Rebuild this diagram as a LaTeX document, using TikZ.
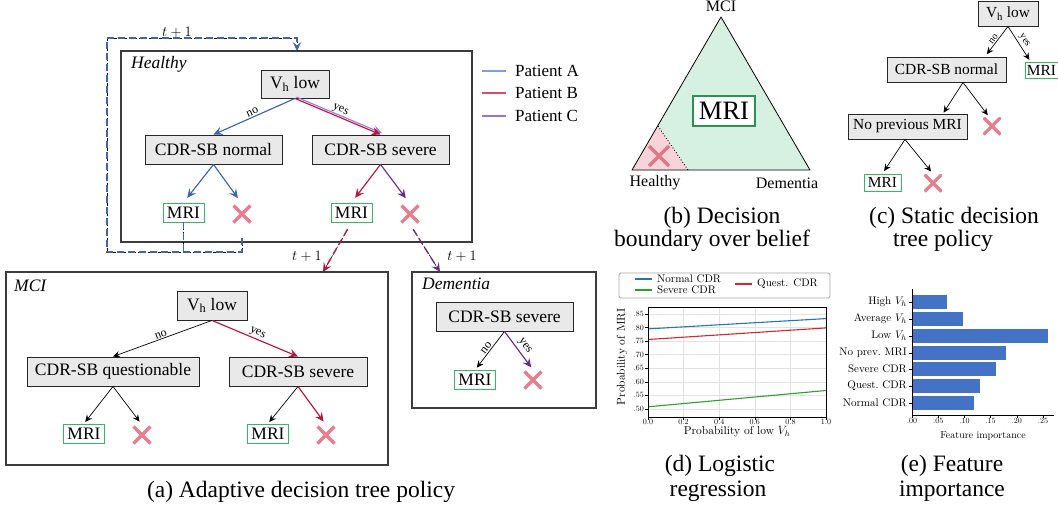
\documentclass[tikz,border=0pt]{standalone}
\usepackage{fontspec}
\setmainfont{Liberation Serif}
\newfontfamily\cmfont{lmroman10-regular.otf}
\usetikzlibrary{arrows.meta,calc}

\definecolor{pathA}{HTML}{3F64AA}
\definecolor{pathB}{HTML}{B4163C}
\definecolor{pathC}{HTML}{6A2C8C}
\definecolor{pathClight}{HTML}{A57AD6}
\definecolor{legA}{HTML}{7C9FE6}
\definecolor{legB}{HTML}{E04D63}
\definecolor{legC}{HTML}{A070D2}
\definecolor{mrigreen}{HTML}{33B864}
\definecolor{xred}{HTML}{EA7D8D}
\definecolor{decfill}{HTML}{E9E9E9}
\definecolor{boxline}{HTML}{3C3C3C}
\definecolor{safe}{HTML}{D6F0E1}
\definecolor{risk}{HTML}{F8D4D8}
\definecolor{barblue}{HTML}{4472C4}
\definecolor{lrblue}{HTML}{1F77B4}
\definecolor{lrred}{HTML}{D62728}
\definecolor{lrgreen}{HTML}{2CA02C}
\definecolor{gridgray}{HTML}{E2E2E2}

\newcommand{\fs}[1]{\fontsize{#1}{#1}\selectfont}

\tikzset{
  x=1pt, y=-1pt,
  regionbox/.style={draw=boxline, line width=1.1pt, inner sep=0pt},
  statelbl/.style={font=\fs{17.5}\itshape, inner sep=0pt},
  decision/.style={draw=black!85, fill=decfill, line width=0.9pt, inner sep=0pt,
    minimum height=29pt, font=\fs{17.5}},
  mribox/.style={draw=mrigreen, line width=0.9pt, fill=white, inner sep=0pt,
    minimum width=41pt, minimum height=19pt, font=\fs{17.5}},
  nomri/.style={minimum size=20pt, inner sep=0pt,
    path picture={\draw[xred, line width=3.2pt]
      ([shift={(-8.5pt,-8.5pt)}]path picture bounding box.center) --
      ([shift={(8.5pt,8.5pt)}]path picture bounding box.center)
      ([shift={(-8.5pt,8.5pt)}]path picture bounding box.center) --
      ([shift={(8.5pt,-8.5pt)}]path picture bounding box.center);}},
  edgelbl/.style={font=\fs{12}, text=black, inner sep=1pt},
  treearrow/.style={line width=1.15pt, -{Stealth[length=9pt,width=8.5pt,inset=3.5pt]}},
  thinarrow/.style={line width=0.7pt, black, -{Stealth[length=7pt,width=6.5pt,inset=2.5pt]}},
  dashunder/.style={black, line width=0.6pt, dash pattern=on 3pt off 2pt},
  dashover/.style={draw=#1, line width=1.35pt, dash pattern=on 7pt off 4pt},
  caption/.style={font=\fs{23.5}, inner sep=0pt},
  steplbl/.style={font=\fs{14}, inner sep=0pt},
  cmtick/.style={font=\cmfont\fs{8}, inner sep=1pt},
  cmlbl/.style={font=\cmfont\fs{11.5}, inner sep=0pt},
}

\begin{document}
\begin{tikzpicture}
\useasboundingbox (0,0) rectangle (1058,509);

% ---------------- (a) adaptive policy: Healthy state ----------------
\node[regionbox, minimum width=351pt, minimum height=191pt] (hbox) at (296.5,146.5) {};
\node[statelbl, anchor=west] (hlbl) at (131,64) {Healthy};
\node[decision, minimum width=68pt, minimum height=28pt] (hvh) at (295,84) {V\textsubscript{h} low};
\node[decision, minimum width=137pt] (hcn) at (213.5,149.5) {CDR-SB normal};
\node[decision, minimum width=137pt] (hcs) at (380.5,149.5) {CDR-SB severe};
\node[mribox] (hm1) at (183.5,212.5) {MRI};
\node[nomri] (hx1) at (242,214) {};
\node[mribox] (hm2) at (351.5,212.5) {MRI};
\node[nomri] (hx2) at (410,214) {};

\draw[treearrow, pathA] (hvh.south) -- node[edgelbl, rotate=25, anchor=south] (hno) {no} (hcn.north);
\draw[treearrow, pathClight, transform canvas={shift={(1.4pt,1.4pt)}}] (hvh.south) -- (hcs.north);
\draw[treearrow, pathB] (hvh.south) -- node[edgelbl, rotate=-23, anchor=south, yshift=1pt] (hyes) {yes} (hcs.north);
\draw[treearrow, pathA, shorten >=6pt] (hcn.south) -- (hm1.north);
\draw[treearrow, pathA, shorten >=7pt] (hcn.south) -- (hx1.north);
\draw[treearrow, pathB, shorten >=6pt] (hcs.south) -- (hm2.north);
\draw[treearrow, pathC, shorten >=7pt] (hcs.south) -- (hx2.north);

% loop back into the Healthy state
\coordinate (loopbl) at (107,252);
\coordinate (looptl) at (107,38);
\coordinate (looptr) at (297,38);
\coordinate (hentry) at (297,51);
\coordinate (mdrop) at (hm1.south |- loopbl);
\draw[dashunder, shorten <=8pt] (hm1.south) -- (mdrop)
  ([yshift=-6pt]hx1.south) |- (loopbl) -- (looptl) -- (looptr) -- (hentry);
\draw[dashover=pathA, shorten <=8pt, -{Stealth[length=9pt,width=8.5pt,inset=3.5pt]}]
  (hm1.south) -- (mdrop)
  ([yshift=-6pt]hx1.south) |- (loopbl) -- (looptl) -- (looptr) -- (hentry);
\node[steplbl] (tloop) at (177,32) {$t+1$};

% transitions to MCI and Dementia
\coordinate (mciin) at (323,272);
\coordinate (demin) at (440,272);
\draw[dashunder, shorten <=8pt] (hm2.south) -- (mciin);
\draw[dashover=pathB, shorten <=8pt, -{Stealth[length=9pt,width=8.5pt,inset=3.5pt]}] (hm2.south) -- (mciin);
\draw[dashunder, shorten <=6pt] (hx2.south) -- (demin);
\draw[dashover=pathC, shorten <=6pt, -{Stealth[length=9pt,width=8.5pt,inset=3.5pt]}] (hx2.south) -- (demin);
\node[steplbl] (tmci) at (307,256) {$t+1$};
\node[steplbl] (tdem) at (462,256) {$t+1$};

% patient legend
\draw[legA, line width=1.5pt] (482,71) -- (506,71);
\draw[legB, line width=1.5pt] (482,93) -- (506,93);
\draw[legC, line width=1.5pt] (482,116) -- (506,116);
\node[anchor=west, font=\fs{17}, inner sep=0pt] (legpa) at (515,71) {Patient A};
\node[anchor=west, font=\fs{17}, inner sep=0pt] (legpb) at (515,93) {Patient B};
\node[anchor=west, font=\fs{17}, inner sep=0pt] (legpc) at (515,116) {Patient C};

% ---------------- MCI state ----------------
\node[regionbox, minimum width=382pt, minimum height=193pt] (mbox) at (197,368.5) {};
\node[statelbl, anchor=west] (mlbl) at (14,286) {MCI};
\node[decision, minimum width=70pt] (mvh) at (212,305.5) {V\textsubscript{h} low};
\node[decision, minimum width=172pt] (mcq) at (113,371.5) {CDR-SB questionable};
\node[decision, minimum width=138pt] (mcs) at (298,371.5) {CDR-SB severe};
\node[mribox] (mm1) at (84,433.5) {MRI};
\node[nomri] (mx1) at (142,435) {};
\node[mribox] (mm2) at (268,433.5) {MRI};
\node[nomri] (mx2) at (326,435) {};
\draw[thinarrow] (mvh.south) -- node[edgelbl, rotate=20, anchor=south] (mno) {no} (mcq.north);
\draw[treearrow, pathB] (mvh.south) -- node[edgelbl, rotate=-25, anchor=south] (myes) {yes} (mcs.north);
\draw[thinarrow, shorten >=2pt] (mcq.south) -- (mm1.north);
\draw[thinarrow, shorten >=4pt] (mcq.south) -- (mx1.north);
\draw[thinarrow, shorten >=2pt] (mcs.south) -- (mm2.north);
\draw[treearrow, pathB, shorten >=4pt] (mcs.south) -- (mx2.north);

% ---------------- Dementia state ----------------
\node[regionbox, minimum width=184pt, minimum height=136pt] (dbox) at (504,340) {};
\node[statelbl, anchor=west] (dlbl) at (422,284) {Dementia};
\node[decision, minimum width=137pt] (dcs) at (504.5,316.5) {CDR-SB severe};
\node[mribox] (dm) at (475,380) {MRI};
\node[nomri] (dx) at (533,380) {};
\draw[thinarrow, shorten >=3pt] (dcs.south) -- node[edgelbl, rotate=53, anchor=south] (dno) {no} (dm.north);
\draw[treearrow, pathC, shorten >=3pt] (dcs.south) -- node[edgelbl, rotate=-54, anchor=south, yshift=1.5pt] (dyes) {yes} (dx.north);

\node[caption] (capa) at (301,492) {(a) Adaptive decision tree policy};

% ---------------- (b) decision boundary over the belief simplex ----------------
\coordinate (th) at (632,170);
\coordinate (td) at (810,170);
\coordinate (tm) at (721,17);
\coordinate (bnd1) at (658,126);
\coordinate (bnd2) at (688,170);
\fill[safe] (th) -- (tm) -- (td) -- cycle;
\fill[risk] (th) -- (bnd1) -- (bnd2) -- cycle;
\draw[dotted, line width=0.9pt] (bnd1) -- (bnd2);
\draw[line width=0.8pt, line join=round] (th) -- (tm) -- (td) -- cycle;
\node[draw=mrigreen!80!black, line width=1.2pt, fill=white, minimum width=62pt, minimum height=30pt,
  inner sep=0pt, font=\fs{26.5}] (tmri) at (724,111) {MRI};
\node[nomri, minimum size=24pt, path picture={\draw[xred!95!black, line width=3.4pt]
  ([shift={(-10pt,-10pt)}]path picture bounding box.center) -- ([shift={(10pt,10pt)}]path picture bounding box.center)
  ([shift={(-10pt,10pt)}]path picture bounding box.center) -- ([shift={(10pt,-10pt)}]path picture bounding box.center);}]
  (tx) at (659,156) {};
\node[font=\fs{16}, anchor=base, inner sep=0pt] (tlm) at (721,11) {MCI};
\node[font=\fs{16}, inner sep=0pt] (tlh) at (655,183) {Healthy};
\node[font=\fs{16}, inner sep=0pt] (tld) at (787,183) {Dementia};
\node[caption] (capb1) at (722,218) {(b) Decision};
\node[caption] (capb2) at (712,241) {boundary over belief};

% ---------------- (c) static decision tree ----------------
\node[decision, minimum width=60pt, minimum height=25pt, font=\fs{15.4}] (svh) at (1008,13.5) {V\textsubscript{h} low};
\node[decision, minimum width=119pt, minimum height=25pt, font=\fs{15.4}] (scn) at (946.5,69.5) {CDR-SB normal};
\node[mribox, minimum width=33pt, minimum height=16pt, font=\fs{15.4}] (sm1) at (1041.5,70) {MRI};
\node[decision, minimum width=119pt, minimum height=25pt, font=\fs{15.4}] (snp) at (907.5,126.5) {No previous MRI};
\node[nomri, minimum size=18pt] (sx1) at (992,126) {};
\node[mribox, minimum width=37pt, minimum height=17pt, font=\fs{15.4}] (sm2) at (882.5,182.5) {MRI};
\node[nomri, minimum size=18pt] (sx2) at (933,183) {};
\draw[thinarrow, shorten >=3pt] (svh.south) -- node[edgelbl, font=\fs{10}, rotate=52, anchor=south] (sno) {no} ([xshift=38.5pt]scn.north);
\draw[thinarrow, shorten >=2pt] (svh.south) -- node[edgelbl, font=\fs{10}, rotate=-56, anchor=south, yshift=1pt] (syes) {yes} ([xshift=-11pt]sm1.north);
\draw[thinarrow, shorten >=1pt] ([xshift=16.5pt]scn.south) -- ([xshift=35.5pt]snp.north);
\draw[thinarrow, shorten >=2pt] ([xshift=16.5pt]scn.south) -- ([xshift=-3pt]sx1.north);
\draw[thinarrow, shorten >=3pt] ([xshift=-2.5pt]snp.south) -- (sm2.north);
\draw[thinarrow, shorten >=3pt] ([xshift=-2.5pt]snp.south) -- (sx2.north);
\node[caption] (capc1) at (954,218) {(c) Static decision};
\node[caption] (capc2) at (943,241) {tree policy};

% ---------------- (d) logistic regression ----------------
\foreach \gx in {683.6,719.2,754.8,790.4}
  \draw[gridgray, line width=0.6pt] (\gx,307) -- (\gx,417);
\foreach \lab/\gy [count=\k] in {.50/409,.55/395.4,.60/381.9,.65/368.3,.70/354.7,.75/341.1,.80/327.6,.85/314} {
  \draw[gridgray, line width=0.6pt] (648,\gy) -- (826,\gy);
  \draw[line width=0.5pt] (645,\gy) -- (648,\gy);
  \node[cmtick, anchor=east] (dyt\k) at (645,\gy) {\lab};
}
\foreach \lab/\gx [count=\k] in {0.0/648,0.2/683.6,0.4/719.2,0.6/754.8,0.8/790.4,1.0/826} {
  \draw[line width=0.5pt] (\gx,417) -- (\gx,420);
  \node[cmtick, anchor=north] (dxt\k) at (\gx,418) {\lab};
}
\draw[lrblue, line width=1.1pt] (648,328.9) -- (826,318.6);
\draw[lrred, line width=1.1pt] (648,339.5) -- (826,327.9);
\draw[lrgreen, line width=1.1pt] (648,406.8) -- (826,390.5);
\draw[line width=0.9pt] (648,307) rectangle (826,417);
\node[cmlbl, rotate=90] (dylab) at (622,357) {Probability of MRI};
\node[cmlbl] (dxlab) at (737,432) {Probability of low $V_h$};
\node[draw=black!35, line width=0.8pt, rounded corners=1.5pt, minimum width=211pt, minimum height=25pt, inner sep=0pt] (dleg) at (724.5,285.5) {};
\draw[lrblue, line width=1.1pt] (635,279) -- (652,279);
\draw[lrgreen, line width=1.1pt] (635,290) -- (652,290);
\draw[lrred, line width=1.1pt] (735,284) -- (752,284);
\node[cmlbl, font=\cmfont\fs{11}, anchor=west] (dl1) at (657,279) {Normal CDR};
\node[cmlbl, font=\cmfont\fs{11}, anchor=west] (dl2) at (657,290) {Severe CDR};
\node[cmlbl, font=\cmfont\fs{11}, anchor=west] (dl3) at (757,284) {Quest. CDR};
\node[caption] (capd1) at (720,466) {(d) Logistic};
\node[caption] (capd2) at (718,491) {regression};

% ---------------- (e) feature importance ----------------
\foreach \lab/\len/\by [count=\k] in {High $V_h$/35/302, Average $V_h$/51/319, Low $V_h$/136/336,
    No prev.\ MRI/94/353, Severe CDR/84/369, Quest.\ CDR/68/386, Normal CDR/62/403} {
  \fill[barblue] (912,\by-7) rectangle ++(\len,14);
  \draw[line width=0.5pt] (909,\by) -- (912,\by);
  \node[cmlbl, font=\cmfont\fs{11}, anchor=east, inner sep=1pt] (fl\k) at (908,\by) {\lab};
}
\foreach \lab/\gx [count=\k] in {.00/912,.05/938.2,.10/964.4,.15/990.6,.20/1016.8,.25/1043} {
  \draw[line width=0.5pt] (\gx,415) -- (\gx,418);
  \node[cmtick, anchor=north] (ft\k) at (\gx,417) {\lab};
}
\draw[line width=0.9pt] (912,289) -- (912,415) -- (1054,415);
\node[cmlbl, font=\cmfont\fs{10}] (fxlab) at (983,436) {Feature importance};
\node[caption] (cape1) at (952,466) {(e) Feature};
\node[caption] (cape2) at (952,491) {importance};
\end{tikzpicture}
\end{document}
